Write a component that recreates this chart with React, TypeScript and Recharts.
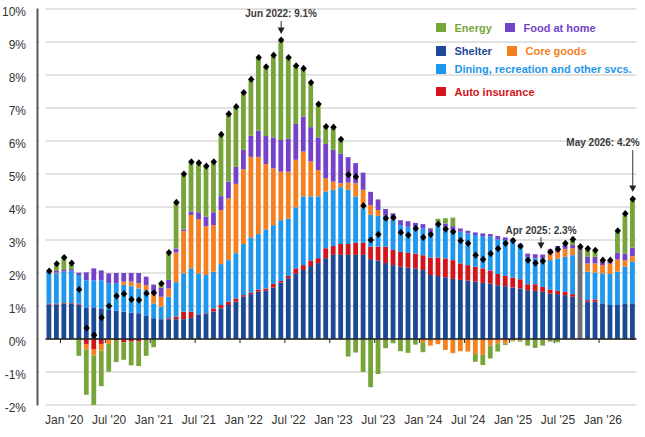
import React from 'react';
import { ComposedChart, Bar, Line, XAxis, YAxis, CartesianGrid, ReferenceLine } from 'recharts';

// ---------- data ----------
const months = [
  'Nov 2019', 'Dec 2019',
  'Jan 2020', 'Feb 2020', 'Mar 2020', 'Apr 2020', 'May 2020', 'Jun 2020', 'Jul 2020', 'Aug 2020', 'Sep 2020', 'Oct 2020', 'Nov 2020', 'Dec 2020',
  'Jan 2021', 'Feb 2021', 'Mar 2021', 'Apr 2021', 'May 2021', 'Jun 2021', 'Jul 2021', 'Aug 2021', 'Sep 2021', 'Oct 2021', 'Nov 2021', 'Dec 2021',
  'Jan 2022', 'Feb 2022', 'Mar 2022', 'Apr 2022', 'May 2022', 'Jun 2022', 'Jul 2022', 'Aug 2022', 'Sep 2022', 'Oct 2022', 'Nov 2022', 'Dec 2022',
  'Jan 2023', 'Feb 2023', 'Mar 2023', 'Apr 2023', 'May 2023', 'Jun 2023', 'Jul 2023', 'Aug 2023', 'Sep 2023', 'Oct 2023', 'Nov 2023', 'Dec 2023',
  'Jan 2024', 'Feb 2024', 'Mar 2024', 'Apr 2024', 'May 2024', 'Jun 2024', 'Jul 2024', 'Aug 2024', 'Sep 2024', 'Oct 2024', 'Nov 2024', 'Dec 2024',
  'Jan 2025', 'Feb 2025', 'Mar 2025', 'Apr 2025', 'May 2025', 'Jun 2025', 'Jul 2025', 'Aug 2025', 'Sep 2025', 'Oct 2025', 'Nov 2025', 'Dec 2025',
  'Jan 2026', 'Feb 2026', 'Mar 2026', 'Apr 2026', 'May 2026',
];

const shelter = [
  1.05, 1.05,
  1.07, 1.07, 1.05, 0.96, 0.96, 0.93, 0.88, 0.86, 0.83, 0.8, 0.78, 0.7,
  0.63, 0.6, 0.6, 0.6, 0.6, 0.64, 0.73, 0.76, 0.83, 0.93, 1.03, 1.13,
  1.28, 1.36, 1.43, 1.46, 1.56, 1.71, 1.84, 1.99, 2.09, 2.21, 2.3, 2.45,
  2.55, 2.55, 2.55, 2.55, 2.55, 2.42, 2.38, 2.3, 2.24, 2.19, 2.16, 2.14,
  2.09, 1.94, 1.91, 1.87, 1.82, 1.79, 1.77, 1.74, 1.7, 1.68, 1.63, 1.6,
  1.56, 1.53, 1.48, 1.46, 1.43, 1.38, 1.36, 1.33, 1.28, null, 1.13, 1.13,
  1.08, 1.03, 1.03, 1.08, 1.08,
];

const autoInsurance = [
  0.02, 0.02,
  0.02, 0.02, 0.02, -0.15, -0.32, -0.15, 0, -0.03, -0.1, -0.08, -0.08, -0.03,
  0, 0, 0.03, 0.08, 0.23, 0.19, 0.02, 0.02, 0.1, 0.1, 0.1, 0.1,
  0.05, 0.05, 0.07, 0.07, 0.11, 0.05, 0.07, 0.15, 0.15, 0.17, 0.15, 0.3,
  0.27, 0.33, 0.33, 0.37, 0.37, 0.38, 0.42, 0.5, 0.46, 0.45, 0.45, 0.45,
  0.45, 0.53, 0.56, 0.57, 0.57, 0.5, 0.47, 0.45, 0.44, 0.39, 0.34, 0.31,
  0.3, 0.28, 0.18, 0.2, 0.15, 0.12, 0.1, 0.1, 0.08, null, 0.05, 0.07,
  0, 0, 0, 0, -0.03,
];

const dining = [
  0.93, 0.92,
  0.95, 0.98, 0.87, 0.82, 0.82, 0.85, 0.81, 0.83, 0.81, 0.8, 0.75, 0.78,
  0.45, 0.38, 0.65, 1.04, 1.16, 1.31, 1.24, 1.16, 1.11, 1.24, 1.26, 1.37,
  1.55, 1.67, 1.68, 1.79, 1.78, 1.84, 1.74, 1.85, 2.08, 1.94, 1.87, 1.72,
  1.7, 1.72, 1.64, 1.4, 1.04, 0.96, 0.93, 0.94, 0.91, 0.81, 0.79, 0.81,
  0.81, 0.78, 0.98, 0.96, 0.91, 0.96, 0.96, 0.96, 0.98, 1.03, 1.05, 1.09,
  1.09, 1.01, 0.83, 0.78, 0.86, 0.89, 0.98, 1.06, 1.18, null, 0.86, 0.81,
  0.91, 0.94, 1.01, 1.11, 1.26,
];

const coreGoods = [
  0, 0.02,
  0, 0, -0.03, -0.17, -0.18, -0.2, -0.15, 0, 0.1, 0.14, 0.16, 0.15,
  0.29, 0.3, 0.25, 0.9, 1.28, 1.62, 1.64, 1.48, 1.41, 1.64, 1.87, 2.1,
  2.26, 2.44, 2.34, 1.98, 1.72, 1.47, 1.42, 1.44, 1.36, 1.06, 0.8, 0.4,
  0.25, 0.12, 0.22, 0.4, 0.56, 0.3, 0.18, 0, 0, 0, 0, 0,
  -0.1, -0.2, -0.16, -0.33, -0.43, -0.37, -0.38, -0.45, -0.48, -0.2, -0.13, -0.13,
  -0.05, -0.04, 0, 0, 0, 0.18, 0.2, 0.24, 0.21, null, 0.25, 0.28,
  0.25, 0.32, 0.37, 0.2, 0.17,
];

const foodAtHome = [
  0.05, 0.05,
  0.05, 0.05, 0.07, 0.24, 0.36, 0.3, 0.3, 0.31, 0.26, 0.26, 0.31, 0.26,
  0.28, 0.28, 0.26, 0.12, 0.05, 0.1, 0.21, 0.29, 0.39, 0.42, 0.51, 0.52,
  0.59, 0.64, 0.79, 0.85, 0.94, 0.96, 1.01, 1.09, 1.06, 1.04, 0.99, 1.04,
  0.96, 0.89, 0.77, 0.61, 0.52, 0.4, 0.32, 0.2, 0.2, 0.15, 0.17, 0.12,
  0.13, 0.1, 0.07, 0.1, 0.12, 0.1, 0.08, 0.08, 0.08, 0.08, 0.1, 0.08,
  0.1, 0.07, 0.1, 0.13, 0.12, 0.15, 0.18, 0.12, 0.1, null, 0.2, 0.2,
  0.15, 0.1, 0.2, 0.2, 0.26,
];

const energy = [
  0.01, 0.22,
  0.38, 0.18, -0.48, -1.37, -1.52, -1.08, -0.84, -0.67, -0.53, -0.72, -0.74, -0.48,
  -0.25, 0.12, 0.83, 1.4, 1.68, 1.51, 1.5, 1.53, 1.53, 1.87, 2.05, 1.82,
  1.74, 1.71, 2.22, 2.1, 2.49, 3.03, 2.45, 1.76, 1.46, 1.35, 1.01, 0.53,
  0.69, 0.44, -0.53, -0.41, -1.0, -1.46, -1.06, -0.28, -0.13, -0.37, -0.42, -0.17,
  -0.3, 0.02, 0.12, 0.16, 0.26, 0, 0, -0.24, -0.31, -0.39, -0.25, -0.05,
  -0.02, -0.04, -0.2, -0.27, -0.2, -0.08, -0.1, 0.05, 0.17, null, 0.25, 0.2,
  0, 0, 0.67, 1.21, 1.5,
];

// month with no component breakdown (grey bar)
const unavailable = [
  null, null,
  null, null, null, null, null, null, null, null, null, null, null, null,
  null, null, null, null, null, null, null, null, null, null, null, null,
  null, null, null, null, null, null, null, null, null, null, null, null,
  null, null, null, null, null, null, null, null, null, null, null, null,
  null, null, null, null, null, null, null, null, null, null, null, null,
  null, null, null, null, null, null, null, null, null, 2.8, null, null,
  null, null, null, null, null,
];

const headline = [
  2.06, 2.28,
  2.47, 2.3, 1.5, 0.33, 0.12, 0.65, 1.0, 1.3, 1.37, 1.2, 1.18, 1.38,
  1.4, 1.68, 2.62, 4.14, 5.0, 5.37, 5.34, 5.24, 5.37, 6.2, 6.82, 7.04,
  7.47, 7.87, 8.53, 8.25, 8.6, 9.06, 8.53, 8.28, 8.2, 7.77, 7.12, 6.44,
  6.42, 6.05, 4.98, 4.92, 4.04, 3.0, 3.17, 3.66, 3.68, 3.23, 3.15, 3.35,
  3.08, 3.17, 3.48, 3.33, 3.25, 2.98, 2.9, 2.54, 2.41, 2.59, 2.74, 2.9,
  2.98, 2.81, 2.39, 2.3, 2.36, 2.64, 2.72, 2.9, 3.02, 2.8, 2.74, 2.69,
  2.39, 2.39, 3.28, 3.8, 4.24,
];

const xTickLabels: Record<string, string> = {
  'Jan 2020': "Jan '20", 'Jul 2020': "Jul '20",
  'Jan 2021': "Jan '21", 'Jul 2021': "Jul '21",
  'Jan 2022': "Jan '22", 'Jul 2022': "Jul '22",
  'Jan 2023': "Jan '23", 'Jul 2023': "Jul '23",
  'Jan 2024': "Jan '24", 'Jul 2024': "Jul '24",
  'Jan 2025': "Jan '25", 'Jul 2025': "Jul '25",
  'Jan 2026': "Jan '26",
};

const yTicks = [-2, -1, 0, 1, 2, 3, 4, 5, 6, 7, 8, 9, 10];

const annotations = [
  { month: 'Jun 2022', text: 'Jun 2022: 9.1%' },
  { month: 'Apr 2025', text: 'Apr 2025: 2.3%' },
  { month: 'May 2026', text: 'May 2026: 4.2%' },
];

const series = [
  { key: 'shelter', name: 'Shelter', color: '#1C4A96' },
  { key: 'autoInsurance', name: 'Auto insurance', color: '#D2151B' },
  { key: 'dining', name: 'Dining, recreation and other svcs.', color: '#1E97EE' },
  { key: 'coreGoods', name: 'Core goods', color: '#F5801F' },
  { key: 'foodAtHome', name: 'Food at home', color: '#7543C9' },
  { key: 'energy', name: 'Energy', color: '#78A53A' },
];

const data = months.map((m, i) => ({
  month: m,
  shelter: shelter[i],
  autoInsurance: autoInsurance[i],
  dining: dining[i],
  coreGoods: coreGoods[i],
  foodAtHome: foodAtHome[i],
  energy: energy[i],
  unavailable: unavailable[i],
  headline: headline[i],
}));

// ---------- layout ----------
const W = 645;
const H = 437;
const M_TOP = 9;
const M_RIGHT = 8.5;
const X_AXIS_H = 32;
const Y_AXIS_W = 45.5;
const AXIS_GAP = 8; // y-axis line sits this far left of the plot area
const LABEL_GAP = 11.5; // labels end this far left of the axis line
const PLOT_W = W - Y_AXIS_W - M_RIGHT;
const PLOT_H = H - M_TOP - X_AXIS_H;
const BAND = PLOT_W / months.length;
const STEP = PLOT_H / (yTicks.length - 1);
const ZERO_Y = M_TOP + PLOT_H * (10 / 12);
const LABEL_Y = M_TOP + PLOT_H + 19;
const FONT = '"Liberation Sans", Arial, Helvetica, sans-serif';
const TEXT = '#333333';

const XTick = (props: any) => {
  const { x, payload } = props;
  const label = xTickLabels[payload && payload.value];
  if (!label) return <g />;
  return (
    <g>
      <line x1={x - BAND / 2} x2={x - BAND / 2} y1={ZERO_Y} y2={ZERO_Y + 4} stroke="#222" strokeWidth={1} />
      <text x={x} y={LABEL_Y} textAnchor="middle" fontSize={12} fontFamily={FONT} fill={TEXT}>
        {label}
      </text>
    </g>
  );
};

const YTick = (props: any) => {
  const { x, y, payload } = props;
  const lineX = x + LABEL_GAP;
  return (
    <g>
      {payload.value !== yTicks[0] && (
        <line x1={lineX} x2={lineX} y1={y - 0.5} y2={y + STEP + 0.5} stroke="#595959" strokeWidth={2} />
      )}
      <text x={x} y={y} dy={7} textAnchor="end" fontSize={12} fontFamily={FONT} fill={TEXT}>
        {`${payload.value}%`}
      </text>
    </g>
  );
};

const Arrow = ({ x, y1, y2 }: { x: number; y1: number; y2: number }) => (
  <g>
    <line x1={x} x2={x} y1={y1} y2={y2 - 5} stroke="#333" strokeWidth={1} />
    <path d={`M${x - 3.5},${y2 - 6.5} L${x + 3.5},${y2 - 6.5} L${x},${y2} Z`} fill="#222" />
  </g>
);

const renderDot = (props: any) => {
  const { cx, cy, payload, index } = props;
  if (cx == null || cy == null || isNaN(cx) || isNaN(cy)) return <g key={`d${index}`} />;
  const ann = annotations.find((a) => a.month === payload.month);
  let annEl: React.ReactNode = null;
  if (ann) {
    const textProps = { fontSize: 10, fontWeight: 700, fontFamily: FONT, fill: '#3a3a3a' } as const;
    if (ann.month === 'Jun 2022') {
      annEl = (
        <g>
          <text x={cx} y={cy - 23} textAnchor="middle" {...textProps}>{ann.text}</text>
          <Arrow x={cx} y1={cy - 19} y2={cy - 6} />
        </g>
      );
    } else if (ann.month === 'Apr 2025') {
      annEl = (
        <g>
          <text x={cx + 5.5} y={cy - 29} textAnchor="middle" {...textProps}>{ann.text}</text>
          <Arrow x={cx + 5.5} y1={cy - 26} y2={cy - 14} />
        </g>
      );
    } else {
      annEl = (
        <g>
          <text x={cx + 7} y={cy - 53} textAnchor="end" {...textProps}>{ann.text}</text>
          <Arrow x={cx} y1={cy - 49} y2={cy - 7} />
        </g>
      );
    }
  }
  return (
    <g key={`d${index}`}>
      <path d={`M${cx},${cy - 3.6} L${cx + 3.2},${cy} L${cx},${cy + 3.6} L${cx - 3.2},${cy} Z`} fill="#000" />
      {annEl}
    </g>
  );
};

const legendLayout = [
  { key: 'energy', x: 436, y: 27.5 },
  { key: 'foodAtHome', x: 505, y: 27.5 },
  { key: 'shelter', x: 436, y: 51 },
  { key: 'coreGoods', x: 507, y: 51 },
  { key: 'dining', x: 436, y: 69 },
  { key: 'autoInsurance', x: 436, y: 91.5 },
];

const Legend = () => (
  <>
    {legendLayout.map((l) => {
      const s = series.find((q) => q.key === l.key)!;
      return (
        <div
          key={l.key}
          style={{
            position: 'absolute',
            left: l.x,
            top: l.y - 7,
            height: 14,
            display: 'flex',
            alignItems: 'center',
            whiteSpace: 'nowrap',
            fontFamily: FONT,
            fontSize: 11,
            fontWeight: 700,
            color: s.color,
          }}
        >
          <span style={{ display: 'inline-block', width: 9.5, height: 9.5, background: s.color, marginRight: 9 }} />
          <span>{s.name}</span>
        </div>
      );
    })}
  </>
);

export default function App() {
  return (
    <div style={{ position: 'absolute', left: 0, top: 0, width: W, height: H, background: '#fff' }}>
      <ComposedChart
        width={W}
        height={H}
        data={data}
        stackOffset="sign"
        barSize={4.8}
        margin={{ top: M_TOP, right: M_RIGHT, bottom: 0, left: 0 }}
      >
        <CartesianGrid vertical={false} stroke="#D9D9D9" strokeWidth={1.5} />
        <XAxis
          dataKey="month"
          interval={0}
          height={X_AXIS_H}
          tick={<XTick />}
          tickLine={false}
          axisLine={false}
        />
        <YAxis
          domain={[-2, 10]}
          ticks={yTicks}
          width={Y_AXIS_W}
          tickSize={0}
          tickMargin={AXIS_GAP + LABEL_GAP}
          tickLine={false}
          axisLine={false}
          tick={<YTick />}
          interval={0}
          allowDataOverflow
        />
        {series.map((s) => (
          <Bar key={s.key} dataKey={s.key} name={s.name} stackId="cpi" fill={s.color} isAnimationActive={false} />
        ))}
        <Bar dataKey="unavailable" stackId="cpi" fill="#707070" isAnimationActive={false} legendType="none" />
        <ReferenceLine y={0} stroke="#222" strokeWidth={1.5} />
        <Line
          dataKey="headline"
          stroke="none"
          strokeWidth={0}
          dot={renderDot}
          activeDot={false}
          legendType="none"
          isAnimationActive={false}
        />
      </ComposedChart>
      <Legend />
    </div>
  );
}
